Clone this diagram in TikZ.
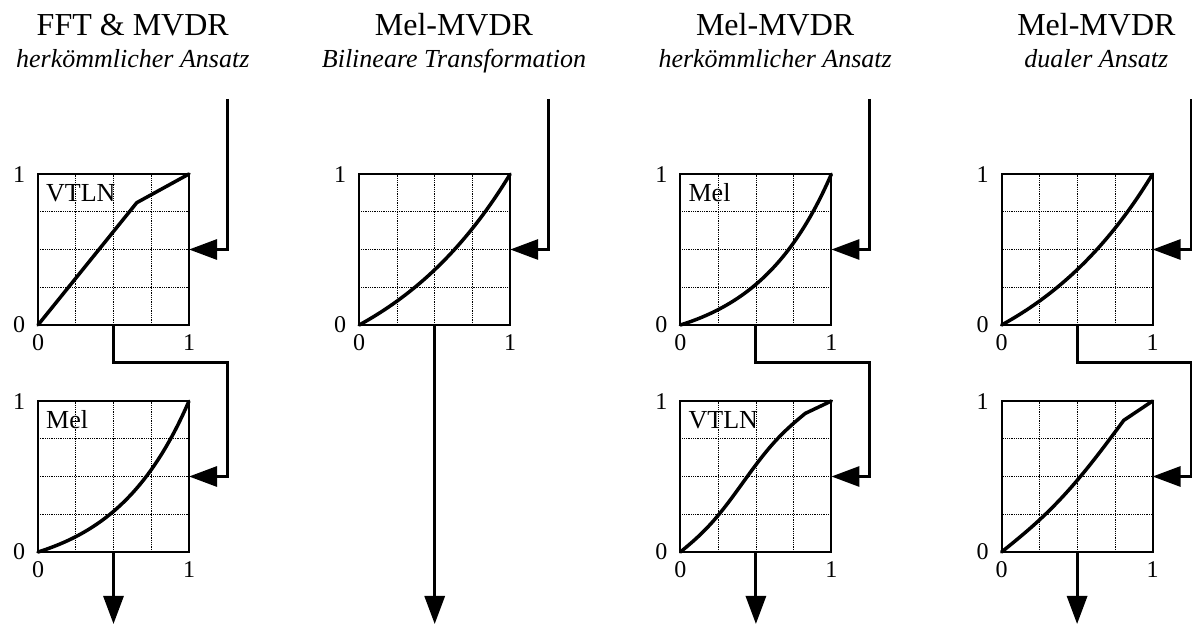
\documentclass[tikz,border=0pt]{standalone}
\usepackage{fontspec}
\setmainfont{Liberation Serif}
\usetikzlibrary{arrows.meta}

\tikzset{
  plotbox/.style={draw, line width=2pt, minimum width=151pt, minimum height=151pt,
                  inner sep=0pt, outer sep=0pt},
  gridline/.style={line width=0.7pt, dash pattern=on 0.9pt off 0.9pt},
  curve/.style={line width=3.5pt, line join=round, line cap=round},
  conn/.style={line width=3pt, -{Triangle[length=28pt,width=20pt]}},
  title/.style={font=\fontsize{32}{36}\selectfont, anchor=base, inner sep=0pt},
  subtitle/.style={font=\fontsize{26}{30}\selectfont\itshape, anchor=base, inner sep=0pt},
  tag/.style={font=\fontsize{26}{30}\selectfont, anchor=base west, inner sep=0pt},
  tick/.style={font=\fontsize{24}{28}\selectfont, inner sep=0pt},
}

% framed unit square with a dotted quarter grid and its 0/1 tick labels
% #1 name, #2 left edge, #3 bottom edge
\newcommand\plotframe[3]{%
  \begin{scope}[shift={(#2pt,#3pt)}, x=151pt, y=151pt]
    \foreach \t in {0.25,0.5,0.75}{
      \draw[gridline] (\t,0) -- (\t,1);
      \draw[gridline] (0,\t) -- (1,\t);
    }
  \end{scope}
  \node[plotbox] (#1) at ({#2+75.5},{#3+75.5}) {};
  \node[tick] (#1-y0) at ([xshift=-19pt]#1.south west) {0};
  \node[tick] (#1-y1) at ([xshift=-19pt,yshift=-1pt]#1.north west) {1};
  \node[tick] (#1-x0) at ([yshift=-18pt]#1.south west) {0};
  \node[tick] (#1-x1) at ([yshift=-18pt]#1.south east) {1};
}

% warping curve drawn in the unit coordinates of a frame
\newcommand\warpcurve[2]{%
  \begin{scope}[shift={(#1.south west)}, x=151pt, y=151pt]
    \draw[curve] #2;
  \end{scope}
}

% Mel scale, bilinear warping, and the two combined VTLN warpings
\def\melcurve{plot[domain=0:1, samples=60, smooth] (\x,{(exp(2*\x)-1)/(exp(2)-1)})}
\def\bilincurve{plot[domain=0:1, samples=60, smooth] (\x,{(exp(1.1*\x)-1)/(exp(1.1)-1)})}
\def\vtlnmel{plot[domain=0:0.827, samples=50, smooth]
  (\x,{0.918*(\x/0.827 - 0.04*sin(360*\x/0.827))}) -- (1,1)}
\def\vtlndual{plot[domain=0:0.809, samples=50, smooth]
  (\x,{0.872*(\x/0.809 - 0.08*sin(180*\x/0.809))}) -- (1,1)}

\begin{document}
\begin{tikzpicture}[x=1pt, y=1pt]
\useasboundingbox (0,0) rectangle (1192,624);

% ---------- FFT & MVDR, conventional ----------
\node[title] (t1) at (132.75,588) {FFT \& MVDR};
\node[subtitle] (s1) at (132.75,556) {herkömmlicher Ansatz};
\plotframe{a1}{38}{299}
\plotframe{b1}{38}{72}
\warpcurve{a1}{(0,0) -- (0.654,0.81) -- (1,1)}
\warpcurve{b1}{\melcurve}
\node[tag] (a1-tag) at ([xshift=8pt,yshift=-28pt]a1.north west) {VTLN};
\node[tag] (b1-tag) at ([xshift=8pt,yshift=-28pt]b1.north west) {Mel};
\coordinate (in1) at (227.5,525);
\coordinate (j1) at (227.5,261);
\coordinate (out1) at (b1.south |- 0,0);
\draw[conn] (in1) |- (a1.east);
\draw[conn] (a1.south) |- (j1) |- (b1.east);
\draw[conn] (b1.south) -- (out1);

% ---------- Mel-MVDR, bilinear transform ----------
\node[title] (t2) at (453.95,588) {Mel-MVDR};
\node[subtitle] (s2) at (453.95,556) {Bilineare Transformation};
\plotframe{a2}{359.2}{299}
\warpcurve{a2}{\bilincurve}
\coordinate (in2) at (548.7,525);
\coordinate (out2) at (a2.south |- 0,0);
\draw[conn] (in2) |- (a2.east);
\draw[conn] (a2.south) -- (out2);

% ---------- Mel-MVDR, conventional ----------
\node[title] (t3) at (775.15,588) {Mel-MVDR};
\node[subtitle] (s3) at (775.15,556) {herkömmlicher Ansatz};
\plotframe{a3}{680.4}{299}
\plotframe{b3}{680.4}{72}
\warpcurve{a3}{\melcurve}
\warpcurve{b3}{\vtlnmel}
\node[tag] (a3-tag) at ([xshift=8pt,yshift=-28pt]a3.north west) {Mel};
\node[tag] (b3-tag) at ([xshift=8pt,yshift=-28pt]b3.north west) {VTLN};
\coordinate (in3) at (869.9,525);
\coordinate (j3) at (869.9,261);
\coordinate (out3) at (b3.south |- 0,0);
\draw[conn] (in3) |- (a3.east);
\draw[conn] (a3.south) |- (j3) |- (b3.east);
\draw[conn] (b3.south) -- (out3);

% ---------- Mel-MVDR, dual ----------
\node[title] (t4) at (1096.35,588) {Mel-MVDR};
\node[subtitle] (s4) at (1096.35,556) {dualer Ansatz};
\plotframe{a4}{1001.6}{299}
\plotframe{b4}{1001.6}{72}
\warpcurve{a4}{\bilincurve}
\warpcurve{b4}{\vtlndual}
\coordinate (in4) at (1191.1,525);
\coordinate (j4) at (1191.1,261);
\coordinate (out4) at (b4.south |- 0,0);
\draw[conn] (in4) |- (a4.east);
\draw[conn] (a4.south) |- (j4) |- (b4.east);
\draw[conn] (b4.south) -- (out4);
\end{tikzpicture}
\end{document}
